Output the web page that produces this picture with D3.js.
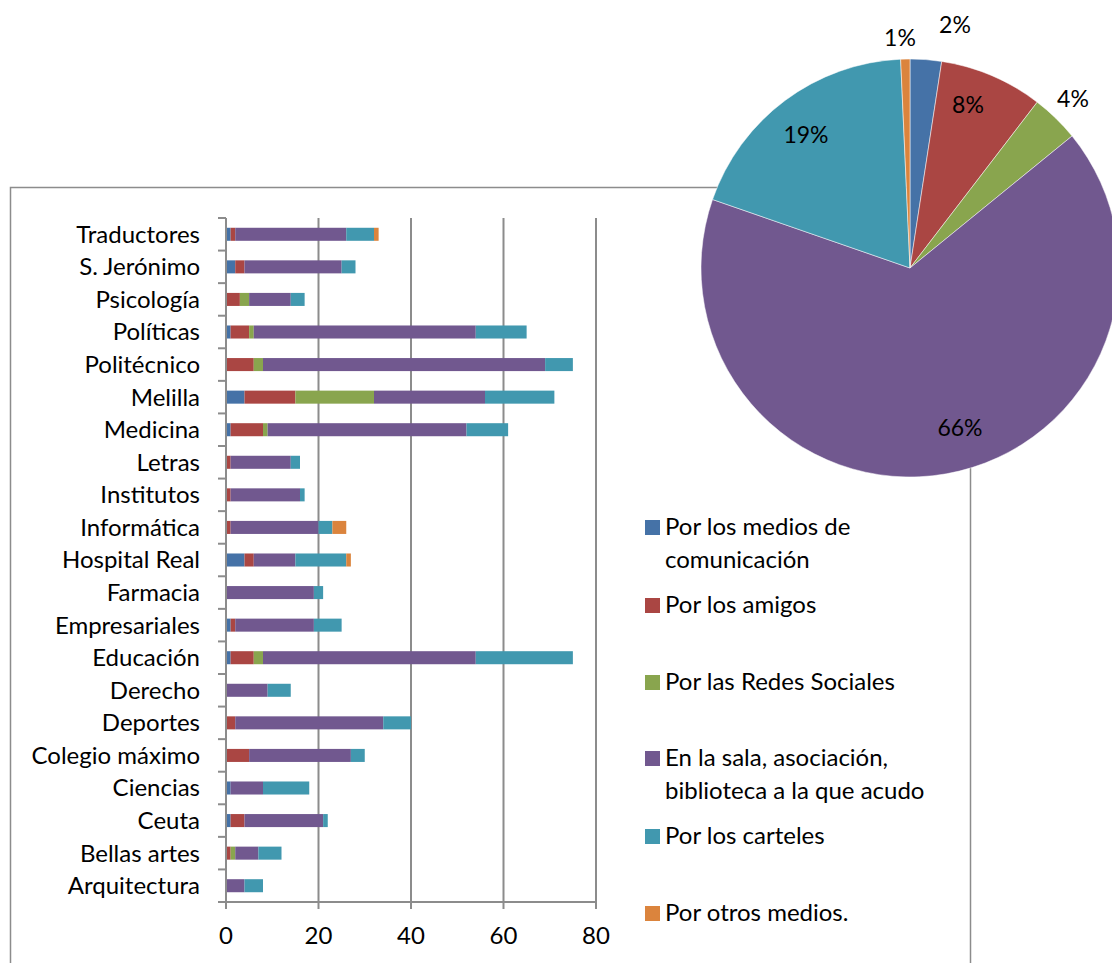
<!DOCTYPE html>
<html>
<head>
<meta charset="utf-8">
<script src="https://cdn.jsdelivr.net/npm/d3@7"></script>
<style>
  body { margin: 0; background: #fff; }
  text { font-family: Lato, "Noto Sans", sans-serif; fill: #000; }
</style>
</head>
<body>
<div id="container"></div>
<script>
var width = 1112,
    height = 963;

// categories, bottom to top as in the chart
var categories = ["Arquitectura", "Bellas artes", "Ceuta", "Ciencias", "Colegio máximo", "Deportes",
    "Derecho", "Educación", "Empresariales", "Farmacia", "Hospital Real", "Informática", "Institutos",
    "Letras", "Medicina", "Melilla", "Politécnico", "Políticas", "Psicología", "S. Jerónimo", "Traductores"];

var seriesNames = ["Por los medios de comunicación", "Por los amigos", "Por las Redes Sociales",
    "En la sala, asociación, biblioteca a la que acudo", "Por los carteles", "Por otros medios."];

var legendLines = [["Por los medios de", "comunicación"], ["Por los amigos"], ["Por las Redes Sociales"],
    ["En la sala, asociación,", "biblioteca a la que acudo"], ["Por los carteles"], ["Por otros medios."]];

var colors = ["#4572a7", "#aa4643", "#89a54e", "#71588f", "#4198af", "#db843d"];

// values per series, same order as categories
var medios  = [0, 0, 1, 1, 0, 0, 0, 1, 1, 0, 4, 0, 0, 0, 1, 4, 0, 1, 0, 2, 1];
var amigos  = [0, 1, 3, 0, 5, 2, 0, 5, 1, 0, 2, 1, 1, 1, 7, 11, 6, 4, 3, 2, 1];
var redes   = [0, 1, 0, 0, 0, 0, 0, 2, 0, 0, 0, 0, 0, 0, 1, 17, 2, 1, 2, 0, 0];
var sala    = [4, 5, 17, 7, 22, 32, 9, 46, 17, 19, 9, 19, 15, 13, 43, 24, 61, 48, 9, 21, 24];
var carteles = [4, 5, 1, 10, 3, 6, 5, 21, 6, 2, 11, 3, 1, 2, 9, 15, 6, 11, 3, 3, 6];
var otros   = [0, 0, 0, 0, 0, 0, 0, 0, 0, 0, 1, 3, 0, 0, 0, 0, 0, 0, 0, 0, 1];

var xTicks = [0, 20, 40, 60, 80];

var seriesData = [medios, amigos, redes, sala, carteles, otros];

var svg = d3.select("#container")
    .append("svg")
    .attr("width", width)
    .attr("height", height);

// outer frame of the chart
svg.append("rect")
    .attr("x", 10.5)
    .attr("y", 187.5)
    .attr("width", 960)
    .attr("height", 800)
    .attr("fill", "none")
    .attr("stroke", "#8c8c8c")
    .attr("stroke-width", 1.5);

var rows = categories.map(function (c, i) {
    var row = { cat: c };
    seriesData.forEach(function (s, k) { row["s" + k] = s[i]; });
    return row;
});

var stack = d3.stack().keys(seriesData.map(function (s, k) { return "s" + k; }));
var stacked = stack(rows);

var x = d3.scaleLinear().domain([0, 80]).range([226, 596]);
var y = d3.scaleBand().domain(categories.slice().reverse()).range([218, 902]).paddingInner(0.6).paddingOuter(0.3);

// gridlines
svg.append("g")
    .selectAll("line")
    .data(xTicks.slice(1))
    .enter().append("line")
    .attr("x1", function (d) { return x(d); })
    .attr("x2", function (d) { return x(d); })
    .attr("y1", 218)
    .attr("y2", 902)
    .attr("stroke", "#8c8c8c")
    .attr("stroke-width", 2);

// bars
svg.append("g")
    .selectAll("g")
    .data(stacked)
    .enter().append("g")
    .attr("fill", function (d, i) { return colors[i]; })
    .selectAll("rect")
    .data(function (d) { return d; })
    .enter().append("rect")
    .attr("x", function (d) { return x(d[0]); })
    .attr("width", function (d) { return x(d[1]) - x(d[0]); })
    .attr("y", function (d) { return y(d.data.cat); })
    .attr("height", y.bandwidth());

// y axis line and ticks at band boundaries
var step = y.step();
var yAxisG = svg.append("g");
yAxisG.append("line")
    .attr("x1", 226).attr("x2", 226)
    .attr("y1", 218).attr("y2", 909)
    .attr("stroke", "#8c8c8c").attr("stroke-width", 2);
yAxisG.selectAll(".tk")
    .data(d3.range(categories.length + 1))
    .enter().append("line")
    .attr("x1", 218).attr("x2", 226)
    .attr("y1", function (d) { return 218 + d * step; })
    .attr("y2", function (d) { return 218 + d * step; })
    .attr("stroke", "#8c8c8c").attr("stroke-width", 2);
yAxisG.selectAll("text")
    .data(categories)
    .enter().append("text")
    .attr("x", 200)
    .attr("y", function (d) { return y(d) + y.bandwidth() / 2; })
    .attr("dy", "0.35em")
    .attr("text-anchor", "end")
    .style("font-size", "24px")
    .text(function (d) { return d; });

// x axis
var xAxisG = svg.append("g");
xAxisG.append("line")
    .attr("x1", 218).attr("x2", 596)
    .attr("y1", 902).attr("y2", 902)
    .attr("stroke", "#8c8c8c").attr("stroke-width", 2);
xAxisG.selectAll(".tk")
    .data(xTicks)
    .enter().append("line")
    .attr("x1", function (d) { return x(d); })
    .attr("x2", function (d) { return x(d); })
    .attr("y1", 902).attr("y2", 909)
    .attr("stroke", "#8c8c8c").attr("stroke-width", 2);
xAxisG.selectAll("text")
    .data(xTicks)
    .enter().append("text")
    .attr("x", function (d) { return x(d); })
    .attr("y", 944)
    .attr("text-anchor", "middle")
    .style("font-size", "24px")
    .text(function (d) { return d; });

// legend
var legendY = [527, 605, 682, 758, 836, 913];
var legend = svg.append("g")
    .selectAll("g")
    .data(legendLines)
    .enter().append("g")
    .attr("transform", function (d, i) { return "translate(645," + legendY[i] + ")"; });
legend.append("rect")
    .attr("x", 0).attr("y", -7)
    .attr("width", 15).attr("height", 15)
    .attr("fill", function (d, i) { return colors[i]; });
legend.append("text")
    .attr("x", 20)
    .attr("y", 8)
    .style("font-size", "24px")
    .selectAll("tspan")
    .data(function (d) { return d; })
    .enter().append("tspan")
    .attr("x", 20)
    .attr("dy", function (d, j) { return j === 0 ? 0 : 33; })
    .text(function (d) { return d; });

// pie of series totals
var totals = seriesData.map(function (s) { return d3.sum(s); });
var grand = d3.sum(totals);
var pie = d3.pie().sort(null)(totals);
var r = 209;
var arc = d3.arc().innerRadius(0).outerRadius(r);
var pieG = svg.append("g").attr("transform", "translate(910,268)");
pieG.selectAll("path")
    .data(pie)
    .enter().append("path")
    .attr("d", arc)
    .attr("fill", function (d, i) { return colors[i]; })
    .attr("stroke", "#fff")
    .attr("stroke-width", 0.5);

// label positions (offsets from pie centre), outside for the small slices
var labelPos = [[45, -243], [58, -163], [163, -169], [50, 160], [-104, -133], [-10, -230]];
pieG.selectAll("text")
    .data(pie)
    .enter().append("text")
    .attr("x", function (d, i) { return labelPos[i][0]; })
    .attr("y", function (d, i) { return labelPos[i][1]; })
    .attr("dy", "0.35em")
    .attr("text-anchor", "middle")
    .style("font-size", "23px")
    .text(function (d) { return Math.round(d.value / grand * 100) + "%"; });
</script>
</body>
</html>
